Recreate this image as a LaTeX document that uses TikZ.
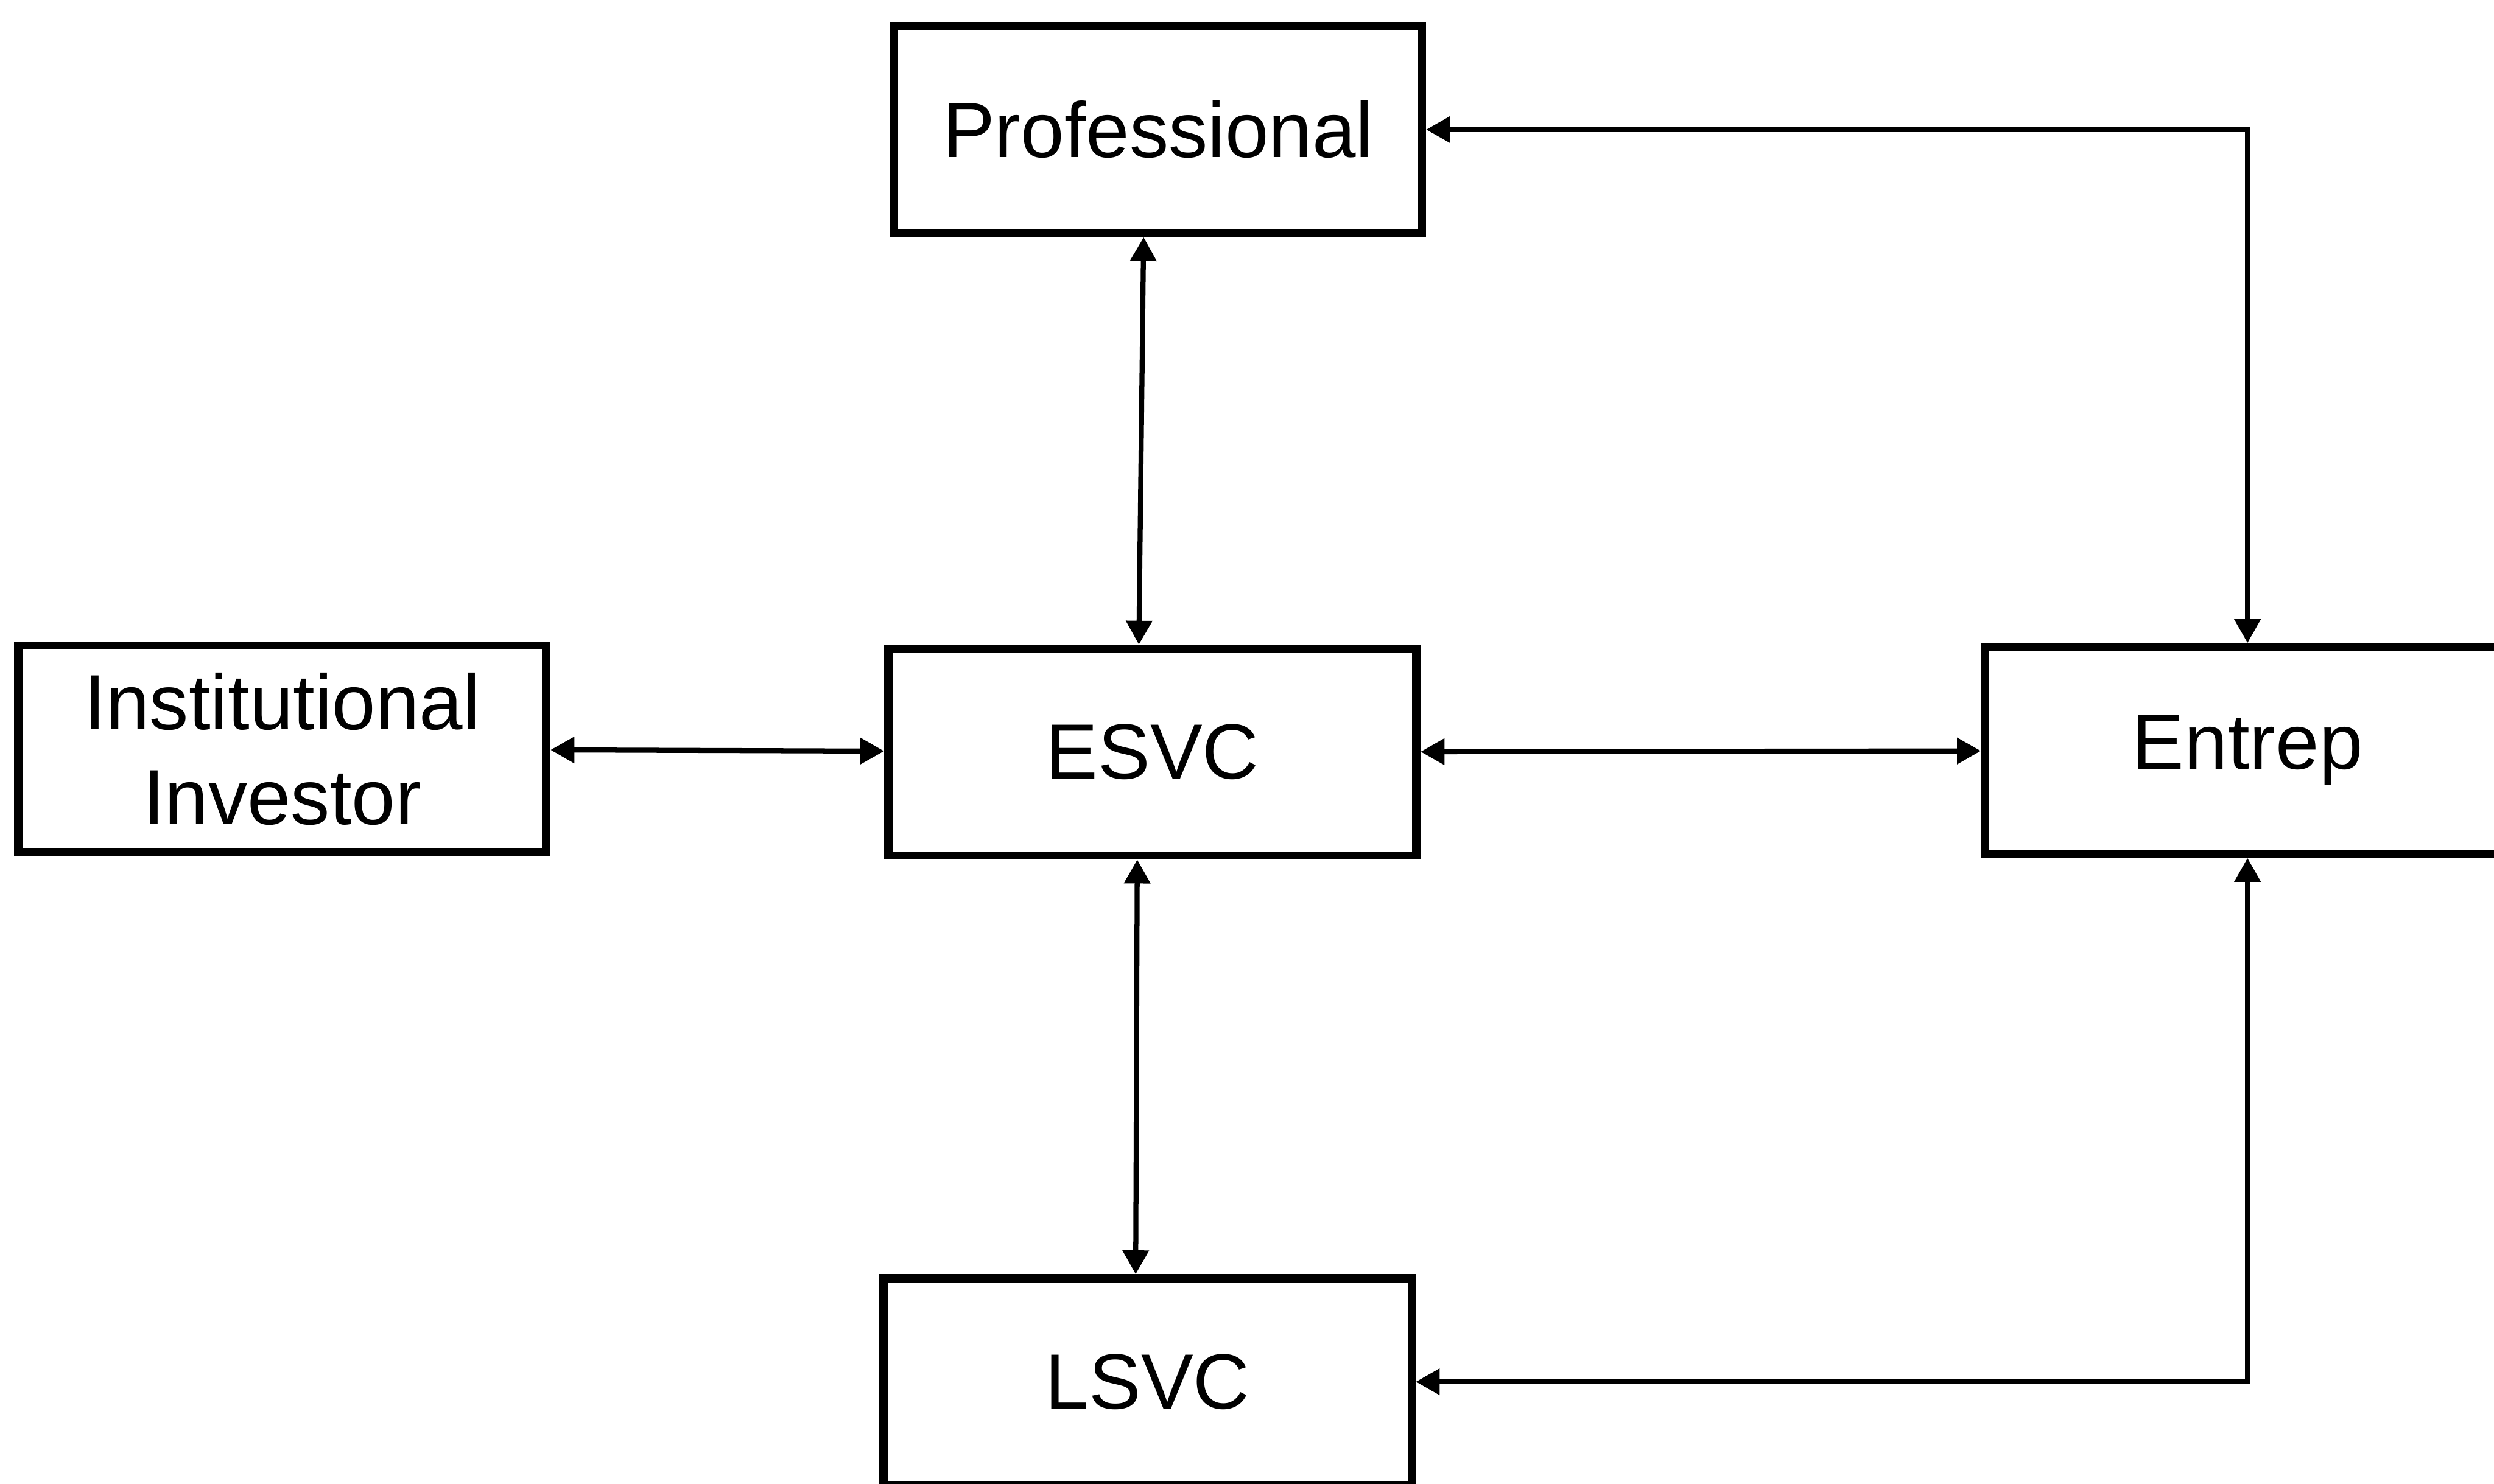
\documentclass[tikz,border=0pt]{standalone}
\usepackage{fontspec}
\setmainfont{Liberation Sans}
\usetikzlibrary{arrows.meta}
\tikzset{
    party/.style={rectangle, draw, line width=1.5pt, minimum width=3.32cm,
      minimum height=1.3cm, inner sep=0pt, align=center,
      font=\fontsize{14}{17}\selectfont},
    link/.style={line width=0.9pt, {Triangle[length=1.5mm, width=1.6mm]}-{Triangle[length=1.5mm, width=1.6mm]}}
}

\begin{document}
\begin{tikzpicture}
  \useasboundingbox (0,0) rectangle (15.68,-9.33);
  \clip (0,0) rectangle (15.68,-9.33);

  \node (prof) [party] at (7.28cm, -0.815cm) {Professional};
  \node (inst) [party] at (1.775cm, -4.71cm) {Institutional\\Investor};
  \node (esvc) [party] at (7.245cm, -4.73cm) {ESVC};
  \node (entrep) [party, minimum width=3.3cm] at (14.13cm, -4.72cm) {Entrep};
  \node (lsvc) [party] at (7.215cm, -8.69cm) {LSVC};

  \draw [link] (inst) -- (esvc);
  \draw [link] (esvc) -- (entrep);
  \draw [link] ([xshift=-0.9mm]prof.south) -- ([xshift=-0.85mm]esvc.north);
  \draw [link] ([xshift=-0.95mm]esvc.south) -- ([xshift=-0.75mm]lsvc.north);

  \draw [link] (prof.east) -| (entrep.north);
  \draw [link] (entrep.south) |- (lsvc.east);
\end{tikzpicture}
\end{document}
